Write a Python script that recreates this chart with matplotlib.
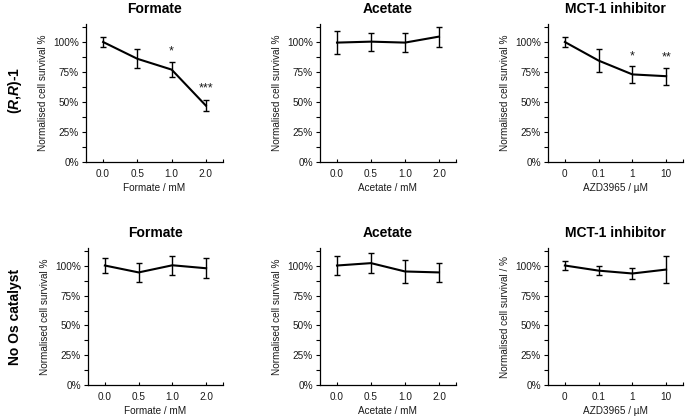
import matplotlib
matplotlib.use("Agg")
import matplotlib.pyplot as plt
import numpy as np

plt.rcParams['font.family'] = ['Liberation Sans', 'DejaVu Sans']
plt.rcParams['mathtext.fontset'] = 'custom'
plt.rcParams['mathtext.rm'] = 'Liberation Sans'
plt.rcParams['mathtext.bf'] = 'Liberation Sans:bold'
plt.rcParams['mathtext.bfit'] = 'Liberation Sans:bold:italic'
plt.rcParams['mathtext.it'] = 'Liberation Sans:italic'

# ---- data ----
conc_mm = ["0.0", "0.5", "1.0", "2.0"]
conc_azd = ["0", "0.1", "1", "10"]

titles = ["Formate", "Acetate", "MCT-1 inhibitor"]
xlabels = ["Formate / mM", "Acetate / mM", "AZD3965 / \u00b5M"]
row_labels = [r"$\mathbf{(}\mathbfit{R}\mathbf{,}\mathbfit{R}\mathbf{)}$-1", "No Os catalyst"]

# row 1: (R,R)-1
rr_formate = [100, 86, 77, 47]
rr_formate_err = [4, 8, 6.5, 4.5]
rr_acetate = [99.5, 100.3, 99.5, 104.5]
rr_acetate_err = [9.4, 7.4, 8.2, 8.4]
rr_mct = [100, 84.5, 73, 71.5]
rr_mct_err = [4.2, 9.5, 7.3, 7.0]

# row 2: no Os catalyst
no_formate = [100.3, 94.5, 100.5, 98]
no_formate_err = [6.4, 8.3, 8.2, 8.2]
no_acetate = [100.3, 102.3, 95.3, 94.5]
no_acetate_err = [7.7, 8.3, 9.8, 7.9]
no_mct = [100.3, 96, 93.6, 96.9]
no_mct_err = [3.4, 3.5, 5.0, 11.0]

# significance marks: (category index, label, y in %)
rr_formate_sig = [(2, "*", 92), (3, "***", 61)]
rr_mct_sig = [(2, "*", 88), (3, "**", 87)]

ylabels = [["Normalised cell survival %"] * 3,
           ["Normalised cell survival %", "Normalised cell survival %",
            "Normalised cell survival / %"]]

rows = [
    [(rr_formate, rr_formate_err, rr_formate_sig),
     (rr_acetate, rr_acetate_err, []),
     (rr_mct, rr_mct_err, rr_mct_sig)],
    [(no_formate, no_formate_err, []),
     (no_acetate, no_acetate_err, []),
     (no_mct, no_mct_err, [])],
]

W, H = 685, 419
fig = plt.figure(figsize=(W / 100, H / 100), dpi=100)

col_left = [[86, 320, 548], [88, 320, 548]]
col_right = [[223, 456, 683], [223, 456, 683]]
row_top = [24, 248]
row_bot = [162, 385]

tc = '#1a1a1a'
for r in range(2):
    for c in range(3):
        l, rr = col_left[r][c], col_right[r][c]
        t, b = row_top[r], row_bot[r]
        ax = fig.add_axes([l / W, 1 - b / H, (rr - l) / W, (b - t) / H])
        vals, errs, sig = rows[r][c]
        x = np.arange(len(vals))
        ax.errorbar(x, vals, yerr=errs, color='black', lw=1.5,
                    elinewidth=1.0, capsize=2.5, capthick=1.0)
        for i, s, yv in sig:
            ax.text(i, yv, s, ha='center', va='center', fontsize=9, color=tc)
        ax.set_xlim(-0.5, 3.5)
        ax.set_ylim(0, 115)
        ax.set_yticks(np.arange(0, 101, 25))
        ax.set_yticklabels([f"{v}%" for v in range(0, 101, 25)])
        ax.set_yticks(np.arange(12.5, 113, 25), minor=True)
        ax.set_xticks(list(x) + [3.5])
        labs = conc_azd if c == 2 else conc_mm
        ax.set_xticklabels(labs + [""])
        ax.tick_params(axis='y', which='both', direction='out', length=3,
                       width=0.8, labelsize=7.2, colors='black',
                       labelcolor=tc, pad=2)
        ax.tick_params(axis='x', direction='in', length=2.5, width=0.8,
                       labelsize=7.2, labelcolor=tc, pad=5)
        for sp in ['top', 'right']:
            ax.spines[sp].set_visible(False)
        for sp in ['left', 'bottom']:
            ax.spines[sp].set_linewidth(0.9)
        ax.set_xlabel(xlabels[c], fontsize=7.2, color=tc, labelpad=3)
        ax.set_ylabel(ylabels[r][c], fontsize=7.2, color=tc, labelpad=4)
        ax.set_title(titles[c], fontsize=10, fontweight='bold', pad=8)

fig.text(15 / W, 1 - 90 / H, row_labels[0], rotation=90, ha='center',
         va='center', fontsize=10, fontweight='bold')
fig.text(15 / W, 1 - 317 / H, row_labels[1], rotation=90, ha='center',
         va='center', fontsize=10, fontweight='bold')

fig.savefig("out.png", dpi=100, facecolor='white')
